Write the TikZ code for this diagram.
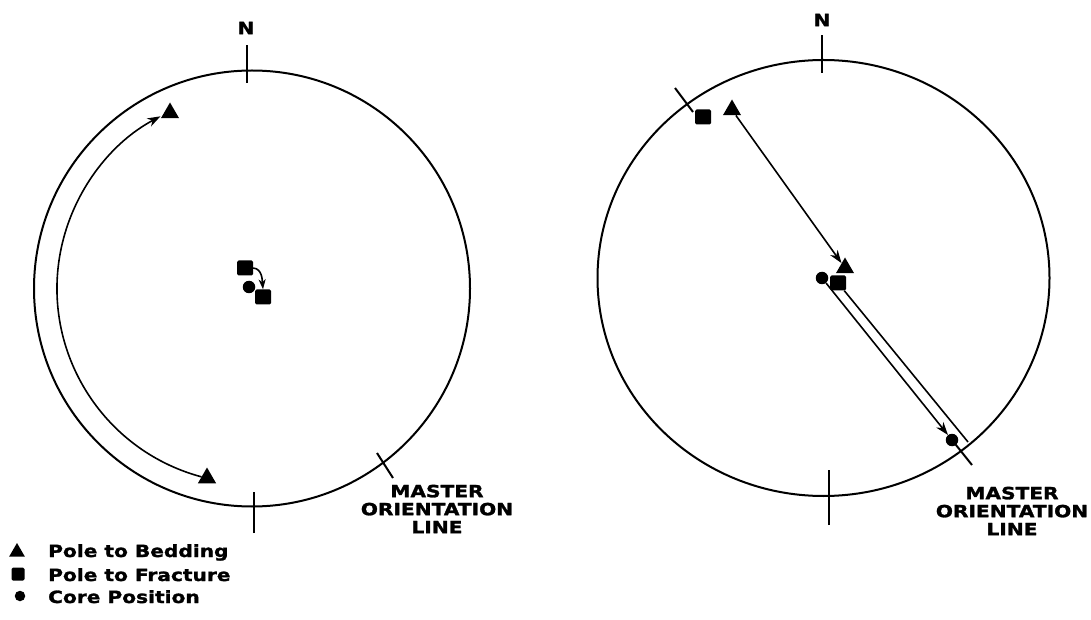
\documentclass[tikz,border=0pt]{standalone}
\usepackage{fontspec}
\usetikzlibrary{arrows.meta,shapes.geometric,calc}
\newfontfamily\labfont[FakeStretch=1.2,FakeBold=1.6]{DejaVu Sans Bold}
\begin{document}
\begin{tikzpicture}[x=1pt,y=1pt,
  ring/.style={line width=2pt},
  tick/.style={line width=2pt},
  conn/.style={line width=1.6pt},
  arr/.style={conn,-{Stealth[length=13pt,width=9pt,inset=4pt]}},
  tri/.style={regular polygon,regular polygon sides=3,fill=black,draw=none,minimum size=21pt,inner sep=0pt},
  sq/.style={rectangle,fill=black,minimum width=16pt,minimum height=15pt,inner sep=0pt,rounded corners=1.5pt},
  dot/.style={circle,fill=black,minimum size=12.5pt,inner sep=0pt},
  txt/.style={font=\labfont\fontsize{16.8}{18}\selectfont,inner sep=0pt},
]
\path[use as bounding box] (0,0) rectangle (1091,619);

% ---------- left stereonet ----------
\coordinate (L) at (252,330.5);
\draw[ring] (L) circle[radius=218];
\coordinate (lnA) at (247,536); \coordinate (lnB) at (247,574);
\draw[tick] (lnA) -- (lnB);
\coordinate (lsA) at (254,86); \coordinate (lsB) at (254,127);
\draw[tick] (lsA) -- (lsB);
\coordinate (lmA) at (377,166); \coordinate (lmB) at (393,141);
\draw[tick] (lmA) -- (lmB);
\node[txt] (nl) at (246,591) {N};

\node[tri] (triUp) at (170,506) {};
\node[tri] (triDown) at (207,141) {};
\node[sq] (sqA) at (245,351) {};
\node[dot] (dotA) at (249,332) {};
\node[sq] (sqB) at (263,322) {};

\draw[arr] ([shift={(255:195)}]L) arc[start angle=255, end angle=118, radius=195];
\draw[conn,-{Stealth[length=10pt,width=7pt,inset=3pt]}] (sqA.east) to[out=-5,in=95] (sqB.north);

\node[txt,align=center] (ml) at (437,110) {MASTER\\ORIENTATION\\LINE};

% ---------- right stereonet ----------
\coordinate (R) at (823.5,341);
\draw[ring] (R) ellipse[x radius=226, y radius=218];
\coordinate (rnA) at (822,546); \coordinate (rnB) at (822,584);
\draw[tick] (rnA) -- (rnB);
\coordinate (rsA) at (829,94); \coordinate (rsB) at (829,149);
\draw[tick] (rsA) -- (rsB);
\coordinate (rtA) at (675,531); \coordinate (rtB) at (693,507);
\draw[tick] (rtA) -- (rtB);
\node[txt] (nr) at (822,599) {N};

\node[sq] (sqC) at (703,502) {};
\node[tri] (triC) at (732,509) {};
\node[tri] (triD) at (845,351) {};
\node[dot] (dotD) at (822,341) {};
\node[sq] (sqD) at (838,336) {};
\node[dot] (dotE) at (952,179) {};
\coordinate (mEnd) at (972,154);
\coordinate (bEnd) at (968,177);

\draw[arr] (triC) -- (triD);
\draw[arr] (dotD) -- (dotE);
\draw[tick] (dotE.center) -- (mEnd);
\draw[conn] (sqD) -- (bEnd);

\node[txt,align=center] (mr) at (1012,108) {MASTER\\ORIENTATION\\LINE};

% ---------- legend ----------
\node[tri,minimum size=18pt] (legT) at (17,67) {};
\node[sq,minimum width=13pt,minimum height=13pt] (legS) at (18,45) {};
\node[dot,minimum size=10.5pt] (legD) at (20,23) {};
\node[txt,anchor=base west] (legT1) at (48,62) {Pole to Bedding};
\node[txt,anchor=base west] (legT2) at (48,38) {Pole to Fracture};
\node[txt,anchor=base west] (legT3) at (48,16) {Core Position};
\end{tikzpicture}
\end{document}
